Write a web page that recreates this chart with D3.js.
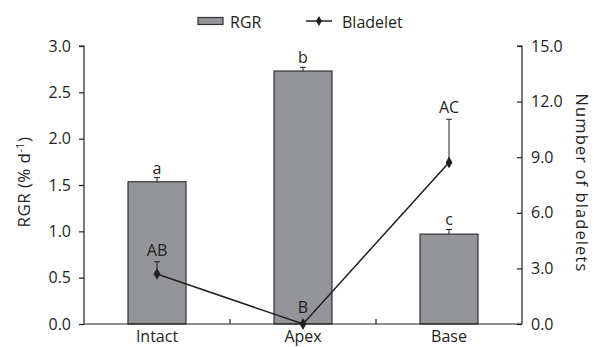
<!DOCTYPE html>
<html><head><meta charset="utf-8">
<script src="https://cdn.jsdelivr.net/npm/d3@7"></script>
<style>body{margin:0;background:#fff}svg{display:block}text{font-family:"Open Sans",sans-serif;fill:#231f20}</style>
</head><body><svg id="c" width="594" height="347"></svg>
<script>
const categories = ["Intact","Apex","Base"];
const rgr = [1.535, 2.73, 0.97];
const rgrErr = [0.045, 0.04, 0.05];
const rgrLetters = ["a","b","c"];
const bladelet = [2.7, 0.0, 8.72];
const bladeletErr = [0.66, 0, 2.33];
const bladeletLetters = ["AB","B","AC"];
const leftTicks = [0,0.5,1.0,1.5,2.0,2.5,3.0];
const rightTicks = [0,3,6,9,12,15];

const svg = d3.select("#c");
const L = 84, R = 522, T = 46, B = 324;
const xc = d3.scaleBand().domain(categories).range([L,R]);
const yL = d3.scaleLinear().domain([0,3]).range([B,T]);
const yR = d3.scaleLinear().domain([0,15]).range([B,T]);
const ink = "#231f20";
const FS = 16;

// bars
svg.selectAll("rect.bar").data(categories).join("rect")
  .attr("x", d=>xc(d)+xc.bandwidth()/2-29).attr("width",58)
  .attr("y", (d,i)=>yL(rgr[i])).attr("height",(d,i)=>B-yL(rgr[i]))
  .attr("fill","#939598").attr("stroke","#333").attr("stroke-width",1.2);
// bar error bars
categories.forEach((d,i)=>{
  const cx = xc(d)+xc.bandwidth()/2;
  svg.append("line").attr("x1",cx).attr("x2",cx).attr("y1",yL(rgr[i])).attr("y2",yL(rgr[i]+rgrErr[i])).attr("stroke",ink);
  svg.append("line").attr("x1",cx-3).attr("x2",cx+3).attr("y1",yL(rgr[i]+rgrErr[i])).attr("y2",yL(rgr[i]+rgrErr[i])).attr("stroke",ink);
  svg.append("text").attr("x",cx).attr("y",yL(rgr[i]+rgrErr[i])-4).attr("text-anchor","middle").attr("font-size",FS).text(rgrLetters[i]);
});

// axes
const gL = svg.append("g").attr("transform",`translate(${L},0)`)
  .call(d3.axisLeft(yL).tickValues(leftTicks).tickFormat(d3.format(".1f")).tickSize(5).tickPadding(8));
const gR = svg.append("g").attr("transform",`translate(${R},0)`)
  .call(d3.axisRight(yR).tickValues(rightTicks).tickFormat(d3.format(".1f")).tickSize(5).tickPadding(8));
const gX = svg.append("g").attr("transform",`translate(0,${B})`)
  .call(d3.axisBottom(xc).tickSize(0).tickPadding(7));
[gL,gR,gX].forEach(g=>{
  g.select(".domain").attr("stroke",ink).attr("stroke-width",1.2);
  g.selectAll(".tick line").attr("stroke",ink).attr("stroke-width",1.2);
  g.selectAll(".tick text").attr("font-size",FS).attr("font-family","'Open Sans',sans-serif").attr("fill",ink);
});
gL.select(".domain").attr("d",`M-5,${T}H0V${B}`);
gR.select(".domain").attr("d",`M-5,${T}H0V${B}`);
gR.selectAll(".tick line").attr("x2",-5);
gR.selectAll(".tick text").attr("x",9);
gX.select(".domain").attr("d",`M${L},0H${R}`);
// category dividers (inward ticks)
categories.slice(1).forEach(d=>{
  svg.append("line").attr("x1",xc(d)).attr("x2",xc(d)).attr("y1",B).attr("y2",B-5).attr("stroke",ink).attr("stroke-width",1.2);
});

// bladelet line
const line = d3.line().x((d,i)=>xc(categories[i])+xc.bandwidth()/2).y(d=>yR(d));
svg.append("path").attr("d",line(bladelet)).attr("fill","none").attr("stroke",ink).attr("stroke-width",1.5);
categories.forEach((d,i)=>{
  const cx = xc(d)+xc.bandwidth()/2;
  if (bladeletErr[i]>0){
    svg.append("line").attr("x1",cx).attr("x2",cx).attr("y1",yR(bladelet[i])).attr("y2",yR(bladelet[i]+bladeletErr[i])).attr("stroke",ink);
    svg.append("line").attr("x1",cx-3).attr("x2",cx+3).attr("y1",yR(bladelet[i]+bladeletErr[i])).attr("y2",yR(bladelet[i]+bladeletErr[i])).attr("stroke",ink);
  }
  svg.append("path").attr("d",d3.symbol(d3.symbolDiamond,40)()).attr("transform",`translate(${cx},${yR(bladelet[i])})`).attr("fill",ink);
  const top = yR(bladelet[i]+bladeletErr[i]);
  svg.append("text").attr("x",cx).attr("y",top-(bladeletErr[i]>0?6:11)).attr("text-anchor","middle").attr("font-size",FS).text(bladeletLetters[i]);
});

// axis titles
svg.append("text").attr("transform",`translate(30,${(T+B)/2-3}) rotate(-90)`).attr("text-anchor","middle").attr("font-size",17).attr("letter-spacing",0.4)
  .html('RGR (% d<tspan dy="-6" font-size="11">-1</tspan><tspan dy="6">)</tspan>');
svg.append("text").attr("transform",`translate(576,${(T+B)/2-2}) rotate(90)`).attr("text-anchor","middle").attr("font-size",16.5).attr("letter-spacing",1.1)
  .text("Number of bladelets");

// legend
svg.append("rect").attr("x",198).attr("y",17.5).attr("width",25).attr("height",7).attr("fill","#939598").attr("stroke","#333").attr("stroke-width",1.2);
svg.append("text").attr("x",230).attr("y",27.5).attr("font-size",FS).text("RGR");
svg.append("line").attr("x1",306).attr("x2",332).attr("y1",21).attr("y2",21).attr("stroke",ink).attr("stroke-width",1.5);
svg.append("path").attr("d",d3.symbol(d3.symbolDiamond,30)()).attr("transform","translate(319,21)").attr("fill",ink);
svg.append("text").attr("x",342).attr("y",27.5).attr("font-size",FS).text("Bladelet");
</script></body></html>
